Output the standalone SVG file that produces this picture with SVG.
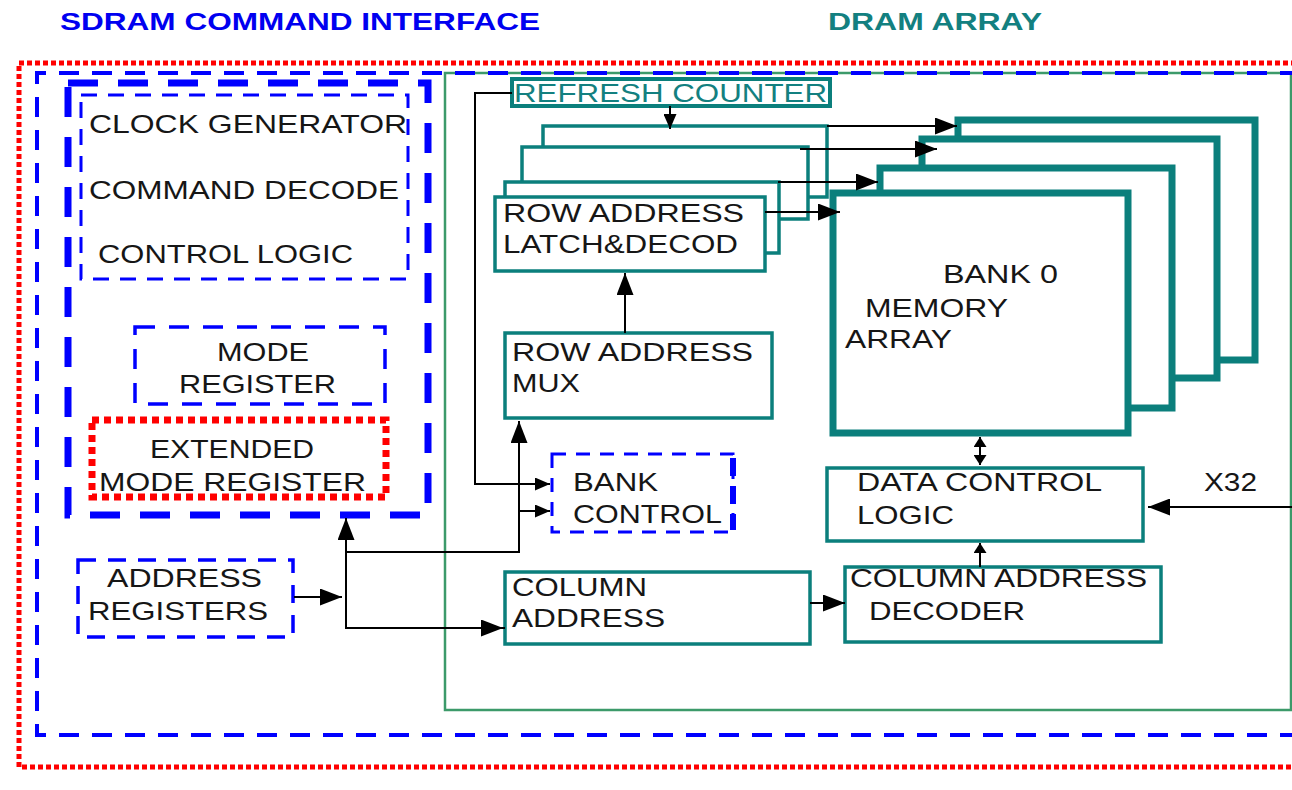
<svg xmlns="http://www.w3.org/2000/svg" width="1292" height="790" viewBox="0 0 1292 790">
<style>
text{font-family:"Liberation Sans",Arial,sans-serif;font-size:25px;fill:#161616;}
.title{font-weight:bold;font-size:23px;}
.tb{fill:#0000f0;}
.tg{fill:#138080;}
.teal{fill:#ffffff;stroke:#0b7f7c;stroke-width:3.5;}
.bank{fill:#ffffff;stroke:#0b7f7c;stroke-width:7;}
.conn{fill:none;stroke:#000;stroke-width:2;}
</style>
<defs>
<marker id="ah" viewBox="0 0 22 17" refX="22" refY="8.5" markerUnits="userSpaceOnUse" markerWidth="22" markerHeight="17" orient="auto-start-reverse">
<path d="M0,0 L22,8.5 L0,17 z" fill="#000"/>
</marker>
<marker id="ahs" viewBox="0 0 15 13" refX="15" refY="6.5" markerUnits="userSpaceOnUse" markerWidth="15" markerHeight="13" orient="auto-start-reverse">
<path d="M0,0 L15,6.5 L0,13 z" fill="#000"/>
</marker>
<marker id="aht" viewBox="0 0 10 13" refX="10" refY="6.5" markerUnits="userSpaceOnUse" markerWidth="10" markerHeight="13" orient="auto-start-reverse">
<path d="M0,0 L10,6.5 L0,13 z" fill="#000"/>
</marker>
</defs>
<rect width="1292" height="790" fill="#ffffff"/>

<g id="titles">
<text class="title tb" x="60" y="30" textLength="480" lengthAdjust="spacingAndGlyphs">SDRAM COMMAND INTERFACE</text>
<text class="title tg" x="828" y="30" textLength="214" lengthAdjust="spacingAndGlyphs">DRAM ARRAY</text>
</g>

<g id="frames">
<rect x="19" y="63" width="1300" height="704" fill="none" stroke="#ff0000" stroke-width="5" stroke-dasharray="5 3"/>
<rect x="445" y="73" width="846" height="637" fill="none" stroke="#3c9a6a" stroke-width="2.5"/>
<path d="M1300,73 H37 V735 H1300" fill="none" stroke="#0000ff" stroke-width="4" stroke-dasharray="20 13"/>
</g>

<g id="command-logic">
<rect x="68" y="83" width="360" height="432" fill="none" stroke="#0000ff" stroke-width="7" stroke-dasharray="30 20"/>
<rect x="81" y="95" width="327" height="184" fill="none" stroke="#0000ff" stroke-width="3" stroke-dasharray="16 11"/>
<text x="89" y="133" textLength="318" lengthAdjust="spacingAndGlyphs">CLOCK GENERATOR</text>
<text x="89" y="199" textLength="310" lengthAdjust="spacingAndGlyphs">COMMAND DECODE</text>
<text x="98" y="263" textLength="255" lengthAdjust="spacingAndGlyphs">CONTROL LOGIC</text>
</g>

<g id="mode-register">
<rect x="135" y="327" width="250" height="77" fill="none" stroke="#0000ff" stroke-width="3.5" stroke-dasharray="20 14"/>
<text x="217" y="361" textLength="92" lengthAdjust="spacingAndGlyphs">MODE</text>
<text x="179" y="393" textLength="157" lengthAdjust="spacingAndGlyphs">REGISTER</text>
</g>

<g id="extended-mode-register">
<rect x="92" y="420" width="294" height="77" fill="none" stroke="#ff0000" stroke-width="7" stroke-dasharray="7 5"/>
<text x="150" y="458" textLength="164" lengthAdjust="spacingAndGlyphs">EXTENDED</text>
<text x="99" y="491" textLength="267" lengthAdjust="spacingAndGlyphs">MODE REGISTER</text>
</g>

<g id="address-registers">
<rect x="78" y="560" width="215" height="77" fill="none" stroke="#0000ff" stroke-width="3.5" stroke-dasharray="18 12"/>
<text x="107" y="587" textLength="155" lengthAdjust="spacingAndGlyphs">ADDRESS</text>
<text x="88" y="620" textLength="180" lengthAdjust="spacingAndGlyphs">REGISTERS</text>
</g>

<g id="refresh-counter">
<rect x="512" y="79" width="318" height="27" fill="#ffffff" stroke="#0b7f7c" stroke-width="4"/>
<text class="tg" x="514" y="102" textLength="313" lengthAdjust="spacingAndGlyphs">REFRESH COUNTER</text>
</g>

<g id="row-address-latch">
<rect class="teal" x="543" y="126" width="284" height="71"/>
<rect class="teal" x="522" y="147" width="286" height="72"/>
<rect class="teal" x="505" y="182" width="274" height="71"/>
<rect class="teal" x="495" y="197" width="270" height="74"/>
<text x="503" y="222" textLength="241" lengthAdjust="spacingAndGlyphs">ROW ADDRESS</text>
<text x="503" y="253" textLength="235" lengthAdjust="spacingAndGlyphs">LATCH&amp;DECOD</text>
</g>

<g id="memory-banks">
<rect class="bank" x="958" y="120" width="297" height="240"/>
<rect class="bank" x="922" y="139" width="295" height="239"/>
<rect class="bank" x="880" y="168" width="292" height="240"/>
<rect class="bank" x="833" y="193" width="295" height="240"/>
<text x="943" y="283" textLength="115" lengthAdjust="spacingAndGlyphs">BANK 0</text>
<text x="865" y="317" textLength="143" lengthAdjust="spacingAndGlyphs">MEMORY</text>
<text x="845" y="348" textLength="107" lengthAdjust="spacingAndGlyphs">ARRAY</text>
</g>

<g id="row-address-mux">
<rect class="teal" x="505" y="333" width="267" height="85"/>
<text x="512" y="361" textLength="241" lengthAdjust="spacingAndGlyphs">ROW ADDRESS</text>
<text x="512" y="392" textLength="68" lengthAdjust="spacingAndGlyphs">MUX</text>
</g>

<g id="bank-control">
<rect x="552" y="454" width="181" height="78" fill="none" stroke="#0000ff" stroke-width="3" stroke-dasharray="14 10"/>
<line x1="733" y1="458" x2="733" y2="530" stroke="#0000ff" stroke-width="6" stroke-dasharray="18 10"/>
<text x="573" y="491" textLength="85" lengthAdjust="spacingAndGlyphs">BANK</text>
<text x="573" y="523" textLength="149" lengthAdjust="spacingAndGlyphs">CONTROL</text>
</g>

<g id="data-control-logic">
<rect class="teal" x="827" y="468" width="316" height="73"/>
<text x="857" y="491" textLength="245" lengthAdjust="spacingAndGlyphs">DATA CONTROL</text>
<text x="857" y="524" textLength="97" lengthAdjust="spacingAndGlyphs">LOGIC</text>
</g>

<g id="column-address">
<rect class="teal" x="505" y="572" width="305" height="72"/>
<text x="512" y="596" textLength="135" lengthAdjust="spacingAndGlyphs">COLUMN</text>
<text x="512" y="627" textLength="153" lengthAdjust="spacingAndGlyphs">ADDRESS</text>
</g>

<g id="column-address-decoder">
<rect class="teal" x="845" y="567" width="316" height="75"/>
<text x="850" y="587" textLength="297" lengthAdjust="spacingAndGlyphs">COLUMN ADDRESS</text>
<text x="869" y="620" textLength="156" lengthAdjust="spacingAndGlyphs">DECODER</text>
</g>

<g id="x32-label">
<text x="1204" y="491" textLength="53" lengthAdjust="spacingAndGlyphs">X32</text>
</g>

<g id="connectors">
<path class="conn" d="M512,93 H475 V484 H550" marker-end="url(#ahs)"/>
<path class="conn" d="M519,511 H550" marker-end="url(#ahs)"/>
<path class="conn" d="M670,106 V129" marker-end="url(#ahs)"/>
<path class="conn" d="M827,126 H957" marker-end="url(#ah)"/>
<path class="conn" d="M800,149 H937" marker-end="url(#ah)"/>
<path class="conn" d="M778,182 H878" marker-end="url(#ah)"/>
<path class="conn" d="M765,212 H840" marker-end="url(#ah)"/>
<path class="conn" d="M625,333 V273" marker-end="url(#ah)"/>
<path class="conn" d="M294,597 H342" marker-end="url(#ah)"/>
<path class="conn" d="M505,628 H346 V518" marker-end="url(#ah)"/>
<path class="conn" d="M346,628 H503" marker-end="url(#ah)"/>
<path class="conn" d="M346,552 H519 V421" marker-end="url(#ah)"/>
<path class="conn" d="M810,603 H845" marker-end="url(#ah)"/>
<path class="conn" d="M980,437 V465" marker-start="url(#aht)" marker-end="url(#aht)"/>
<path class="conn" d="M980,567 V543" marker-end="url(#aht)"/>
<path class="conn" d="M1292,507 H1148" marker-end="url(#ah)"/>
</g>
</svg>
